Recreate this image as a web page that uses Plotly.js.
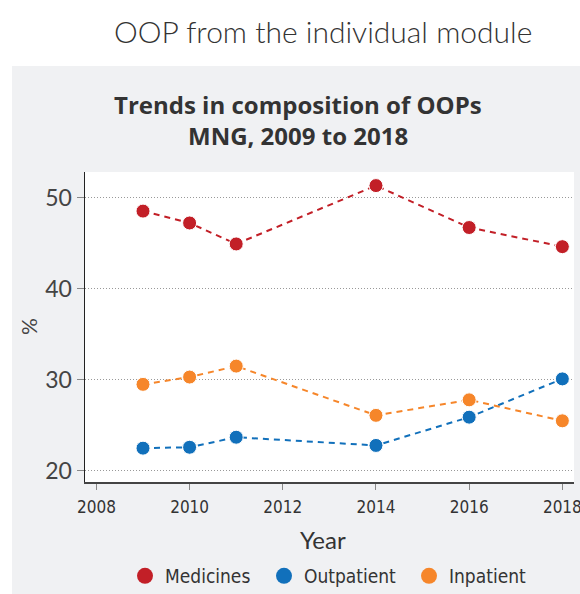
<!DOCTYPE html>
<html>
<head>
<meta charset="utf-8">
<script src="https://cdn.plot.ly/plotly-3.0.1.min.js"></script>
<style>html,body{margin:0;padding:0;background:#fff;}#chart{width:580px;height:594px;}</style>
</head>
<body>
<div id="chart"></div>
<script>
const years = [2009, 2010, 2011, 2014, 2016, 2018];
const medicines = [48.5, 47.2, 44.9, 51.3, 46.7, 44.6];
const outpatient = [22.5, 22.6, 23.7, 22.8, 25.9, 30.1];
const inpatient = [29.5, 30.3, 31.5, 26.1, 27.8, 25.5];
const seriesNames = ['Medicines', 'Outpatient', 'Inpatient'];
const seriesColors = ['#c21f27', '#1170bb', '#f6862a'];
const xTicks = [2008, 2010, 2012, 2014, 2016, 2018];
const yTicks = [20, 30, 40, 50];

const seriesData = [medicines, outpatient, inpatient];
const legendIds = ['legend', 'legend2', 'legend3'];
const dataTraces = seriesData.map((vals, i) => ({
  x: years, y: vals, name: seriesNames[i], type: 'scatter', mode: 'lines+markers',
  showlegend: false,
  line: {color: seriesColors[i], width: 2, dash: '6px,5px'},
  marker: {color: seriesColors[i], size: 14, line: {color: '#ffffff', width: 1}}
}));
const legendTraces = seriesNames.map((nm, i) => ({
  x: [null], y: [null], name: nm, type: 'scatter', mode: 'markers',
  legend: legendIds[i], showlegend: true,
  marker: {color: seriesColors[i], size: 18}
}));

const narrow = '"DejaVu Sans Condensed", "DejaVu Sans", sans-serif';
const legendCenters = [150, 289, 434];
function legendAt(cx) {
  return {orientation: 'h', x: (cx - 25 - 85) / 489, xanchor: 'left',
    yref: 'container', y: (594 - 576) / 594, yanchor: 'middle',
    font: {family: narrow, size: 19, color: '#333'}, itemwidth: 30,
    bgcolor: 'rgba(0,0,0,0)'};
}
const layout = {
  width: 580, height: 594,
  margin: {l: 85, r: 6, t: 172, b: 112},
  paper_bgcolor: '#ffffff',
  plot_bgcolor: 'rgba(0,0,0,0)',
  showlegend: true,
  legend: legendAt(legendCenters[0]),
  legend2: legendAt(legendCenters[1]),
  legend3: legendAt(legendCenters[2]),
  xaxis: {range: [2007.755, 2018.25], tickvals: xTicks, ticktext: xTicks.map(String), automargin: false,
    ticklabeloverflow: 'allow', ticklabelstandoff: 3,
    showgrid: false, zeroline: false, showline: true, linecolor: '#444', linewidth: 1.5,
    ticks: 'outside', ticklen: 6, tickcolor: '#888', tickwidth: 1,
    tickfont: {family: narrow, size: 17, color: '#333'}},
  yaxis: {range: [18.79, 52.79], tickvals: yTicks, ticktext: yTicks.map(String), automargin: false,
    showgrid: true, gridcolor: '#999', griddash: '1px,2px', gridwidth: 1,
    zeroline: false, showline: true, linecolor: '#222', linewidth: 1.5,
    ticks: 'outside', ticklen: 7, tickcolor: '#888', tickwidth: 1,
    tickfont: {family: 'Lato, sans-serif', size: 23, color: '#444'}},
  shapes: [
    {type: 'rect', xref: 'paper', yref: 'paper', x0: -0.1493, x1: 1.2, y0: -0.6, y1: 1.342,
      fillcolor: '#f0f1f3', line: {width: 0}, layer: 'below'},
    {type: 'rect', xref: 'paper', yref: 'paper', x0: 0, x1: 1, y0: 0, y1: 1,
      fillcolor: '#ffffff', line: {width: 0}, layer: 'below'}
  ],
  annotations: [
    {text: 'OOP from the individual module', xref: 'paper', yref: 'paper',
      x: (323 - 85) / 489, y: (482 - 31) / 310, xanchor: 'center', yanchor: 'middle', showarrow: false,
      font: {family: 'Lato, sans-serif', size: 30, color: '#333', weight: 300}},
    {text: '<b>Trends in composition of OOPs</b>', xref: 'paper', yref: 'paper',
      x: (297.5 - 85) / 489, y: (482 - 104) / 310, xanchor: 'center', yanchor: 'middle', showarrow: false,
      font: {family: '"Open Sans", sans-serif', size: 24, color: '#333'}},
    {text: '<b>MNG, 2009 to 2018</b>', xref: 'paper', yref: 'paper',
      x: (297.5 - 85) / 489, y: (482 - 136) / 310, xanchor: 'center', yanchor: 'middle', showarrow: false,
      font: {family: '"Open Sans", sans-serif', size: 24, color: '#333'}},
    {text: 'Year', xref: 'paper', yref: 'paper',
      x: (323 - 85) / 489, y: (482 - 539) / 310, xanchor: 'center', yanchor: 'middle', showarrow: false,
      font: {family: 'Lato, sans-serif', size: 24, color: '#333'}},
    {text: '%', xref: 'paper', yref: 'paper', textangle: -90,
      x: (28 - 85) / 489, y: (482 - 327) / 310, xanchor: 'center', yanchor: 'middle', showarrow: false,
      font: {family: 'Lato, sans-serif', size: 21, color: '#444'}}
  ]
};

Plotly.newPlot('chart', dataTraces.concat(legendTraces), layout, {displayModeBar: false, staticPlot: true});
</script>
</body>
</html>
